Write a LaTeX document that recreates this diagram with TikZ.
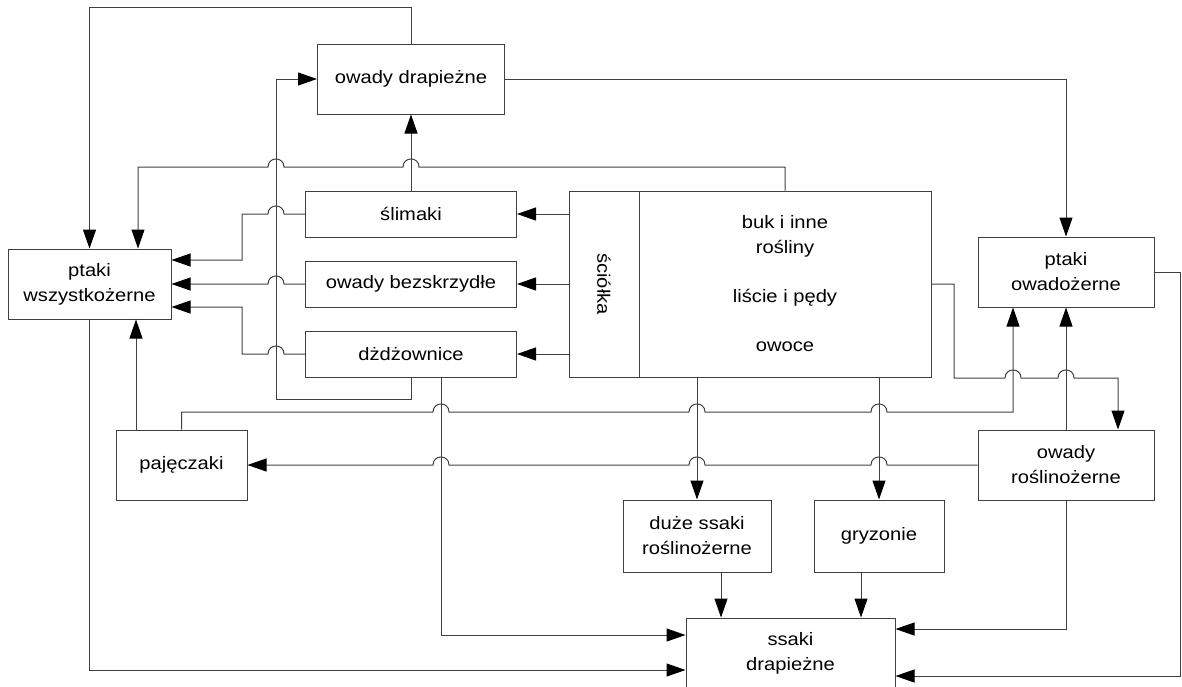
\documentclass[tikz,border=0pt]{standalone}
\usepackage{fontspec}
\setmainfont[FakeStretch=1.12]{Liberation Sans}
\usetikzlibrary{arrows.meta}

\tikzset{
  box/.style={draw=black!75, line width=1pt, inner sep=0pt, align=center, text=black,
    font=\fontsize{18}{25}\selectfont},
  arr/.style={draw=black!75, line width=1pt, -{Triangle[length=19pt,width=13pt,color=black]}},
  hopl/.style={insert path={.. controls +(0,-10.7) and +(0,-10.7) .. ++(-16,0)}},
  hopr/.style={insert path={.. controls +(0,-10.7) and +(0,-10.7) .. ++(16,0)}},
}

\begin{document}
\begin{tikzpicture}[x=1pt, y=-1pt]
    \useasboundingbox (0,0) rectangle (1182,686);
    % boxes
    \node[box, minimum width=187pt, minimum height=70pt] (odr) at (411,79) {owady drapieżne};
    \node[box, minimum width=163pt, minimum height=70pt] (pw) at (89.5,284) {ptaki\\wszystkożerne};
    \node[box, minimum width=211pt, minimum height=46pt] (sli) at (411,214) {ślimaki};
    \node[box, minimum width=211pt, minimum height=46pt] (obez) at (411,284) {owady bezskrzydłe};
    \node[box, minimum width=211pt, minimum height=46pt] (dzd) at (411,354) {dżdżownice};
    \node[box, minimum width=70pt, minimum height=186pt,
      label={[rotate=-90, font=\fontsize{18}{25}\selectfont]center:ściółka}] (sci) at (604,284) {};
    \node[box, minimum width=292pt, minimum height=186pt] (buk) at (785,284)
      {buk i inne\\rośliny\\[24pt]liście i pędy\\[24pt]owoce};
    \node[box, minimum width=176pt, minimum height=70pt] (pow) at (1066,272) {ptaki\\owadożerne};
    \node[box, minimum width=131pt, minimum height=70pt] (paj) at (181.5,465) {pajęczaki};
    \node[box, minimum width=176pt, minimum height=70pt] (orosl) at (1066,465) {owady\\roślinożerne};
    \node[box, minimum width=148pt, minimum height=72pt] (dss) at (697,536) {duże ssaki\\roślinożerne};
    \node[box, minimum width=130pt, minimum height=72pt] (gry) at (879,536) {gryzonie};
    \node[box, minimum width=209pt, minimum height=70pt] (ssd) at (790.5,653) {ssaki\\drapieżne};

    % top connectors
    \draw[arr] (odr.north) -- ++(0,-36) -| (pw.north);
    \draw[arr] (buk.north) |- (419,167) [hopl] -- (284,167) [hopl] -- (138,167)
      -- (138,167 |- pw.north);
    \draw[arr] (odr.east) -| (pow.north);
    \draw[arr] (sli.north) -- (odr.south);
    \draw[arr] (dzd.south) -- ++(0,22) -- ++(-135,0) |- (odr.west);

    % litter to soil fauna
    \draw[arr] (sci.west |- sli) -- (sli.east);
    \draw[arr] (sci.west |- obez) -- (obez.east);
    \draw[arr] (sci.west |- dzd) -- (dzd.east);

    % soil fauna to omnivorous birds
    \draw[arr] (sli.west) -- (284,214) [hopl] -- (242,214) |- ([yshift=24pt]pw.east);
    \draw[arr] (obez.west) -- (284,284) [hopl] -- (pw.east);
    \draw[arr] (dzd.west) -- (284,354) [hopl] -- (242,354) |- ([yshift=-23pt]pw.east);

    % spiders
    \draw[arr] (paj.north -| 136,0) -- (pw.south -| 136,0);
    \draw[arr] (paj.north) -- (181.5,412) -- (433,412) [hopr] -- (689,412) [hopr]
      -- (871,412) [hopr] -- (1013,412) -- (1013,412 |- pow.south);
    \draw[arr] (orosl.west) -- (887,465) [hopl] -- (705,465) [hopl] -- (449,465) [hopl]
      -- (paj.east);

    % plants
    \draw[arr] (buk.south -| dss.north) -- (dss.north);
    \draw[arr] (buk.south -| gry.north) -- (gry.north);
    \draw[arr] (buk.east) -- (954,284) -- (954,378) -- (1005,378) [hopr] -- (1058,378) [hopr]
      -- (1118,378) -- (1118,378 |- orosl.north);
    \draw[arr] (orosl.north) -- (pow.south);

    % predatory mammals
    \draw[arr] (pw.south) |- ([yshift=-17pt]ssd.west);
    \draw[arr] (dzd.south -| 441,0) |- ([yshift=18pt]ssd.west);
    \draw[arr] (dss.south -| 721,0) -- (ssd.north -| 721,0);
    \draw[arr] (gry.south -| 861,0) -- (ssd.north -| 861,0);
    \draw[arr] (orosl.south) |- ([yshift=24pt]ssd.east);
    \draw[arr] (pow.east) -- (1180,272) |- ([yshift=-23pt]ssd.east);
\end{tikzpicture}
\end{document}
